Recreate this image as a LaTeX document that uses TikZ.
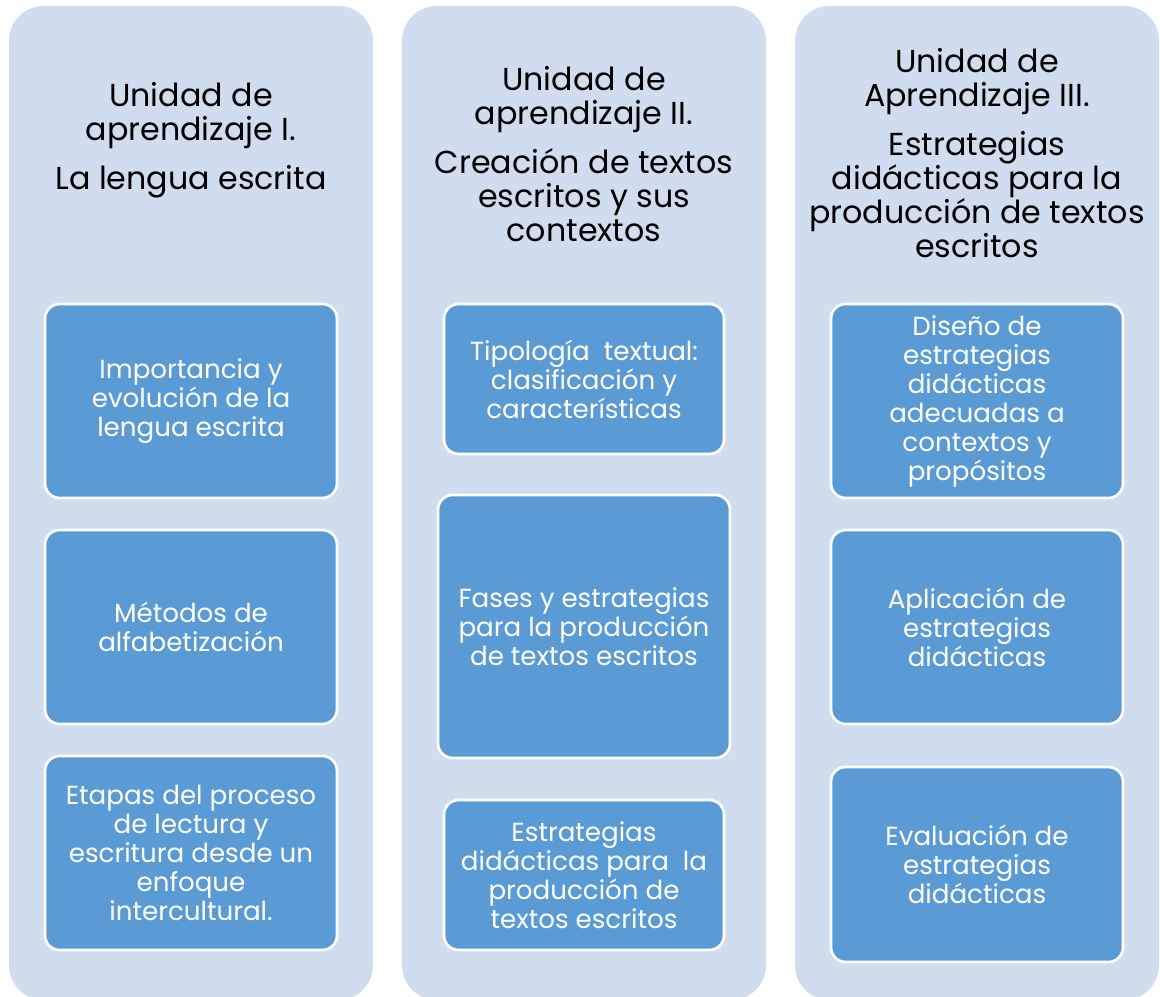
\documentclass[tikz,border=0pt]{standalone}
\usepackage{fontspec}
\setmainfont{Poppins}
\usepackage{xcolor}
\definecolor{colbg}{HTML}{CFDDEE}
\definecolor{itembg}{HTML}{5B9BD5}

\begin{document}
\begin{tikzpicture}[x=0.75pt, y=-0.75pt,
    size/.style 2 args = {minimum width=#1*0.75pt, minimum height=#2*0.75pt},
    col/.style = {fill=colbg, rounded corners=26pt, inner sep=0pt},
    head/.style = {align=center, text=black, font=\fontsize{23.8}{25.6}\selectfont},
    item/.style = {fill=itembg, draw=white, line width=2pt, rounded corners=11pt,
                   align=center, text=white, inner sep=0pt,
                   font=\fontsize{19.6}{21.75}\selectfont}]
        \useasboundingbox (0,0) rectangle (1160,996);
        % columns
        \node[col, size={364}{994}] (c1) at (191,503) {};
        \node[col, size={364}{994}] (c2) at (584,503) {};
        \node[col, size={364}{994}] (c3) at (977,503) {};
        % headings
        \node[head] (h1) at (191,140) {Unidad de\\aprendizaje I.\\[11pt]La lengua escrita};
        \node[head] (h2) at (584,154) {Unidad de\\aprendizaje II.\\[11pt]Creación de textos\\escritos y sus\\contextos};
        \node[head] (h3) at (977,153) {Unidad de\\Aprendizaje III.\\[11pt]Estrategias\\didácticas para la\\producción de textos\\escritos};
        % unit I
        \node[item, size={292}{194}] (a1) at (191,401) {Importancia y\\evolución de la\\lengua escrita};
        \node[item, size={292}{194}] (a2) at (191,627) {Métodos de\\alfabetización};
        \node[item, size={292}{194}] (a3) at (191,853) {Etapas del proceso\\de lectura y\\escritura desde un\\enfoque\\intercultural.};
        % unit II
        \node[item, size={280}{150}] (b1) at (584,379) {Tipología\ \ textual:\\clasificación y\\características};
        \node[item, size={292}{263}] (b2) at (584,626.5) {Fases y estrategias\\para la producción\\de textos escritos};
        \node[item, size={280}{150}] (b3) at (584,875) {Estrategias\\didácticas para\ \ la\\producción de\\textos escritos};
        % unit III
        \node[item, size={292}{194}] (d1) at (977,401) {Diseño de\\estrategias\\didácticas\\adecuadas a\\contextos y\\propósitos};
        \node[item, size={292}{194}] (d2) at (977,627) {Aplicación de\\estrategias\\didácticas};
        \node[item, size={292}{195}] (d3) at (977,864.5) {Evaluación de\\estrategias\\didácticas};
    \end{tikzpicture}
\end{document}
